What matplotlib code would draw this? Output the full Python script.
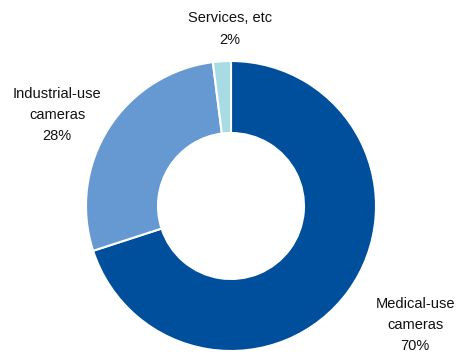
import matplotlib.pyplot as plt

# Market share by application
segments = ['Medical-use\ncameras', 'Industrial-use\ncameras', 'Services, etc']
shares = [70, 28, 2]
colors = ['#004f9c', '#6699d2', '#a8dce5']

plt.rcParams['font.family'] = ['Liberation Sans', 'DejaVu Sans']

fig = plt.figure(figsize=(4.61, 3.58), dpi=100)
ax = fig.add_axes([0, 0, 1, 1])

ax.pie(shares, colors=colors, startangle=90, counterclock=False,
       center=(231, 152), radius=145,
       wedgeprops=dict(width=72, edgecolor='white', linewidth=1.5))

# pie() resets the limits, so fix them in pixel units afterwards
ax.set_xlim(0, 461)
ax.set_ylim(0, 358)
ax.set_aspect('equal')
ax.axis('off')

# Labels placed outside the ring
label_pos = [(415, 33), (57, 243), (230, 329)]
for name, val, (x, y) in zip(segments, shares, label_pos):
    ax.text(x, y, f'{name}\n{val}%', ha='center', va='center',
            fontsize=10.5, linespacing=1.65, color='#111111')

plt.savefig('out.png', dpi=100)
